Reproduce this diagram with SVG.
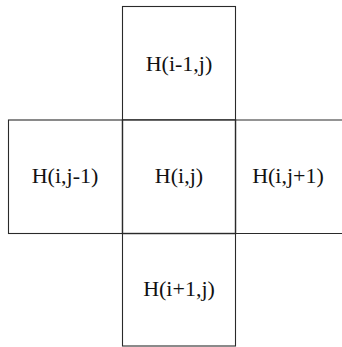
<svg xmlns="http://www.w3.org/2000/svg" width="342" height="347" viewBox="0 0 342 347">
<style>
.box{fill:#fff;stroke:#2a2a2a;stroke-width:1.1}
.lbl{font-family:"Liberation Serif","DejaVu Serif",serif;font-size:22px;fill:#111;text-anchor:middle}
</style>
<rect width="342" height="347" fill="#fff"/>
<g id="top"><rect class="box" x="122.5" y="6.5" width="113" height="113.5"/><text class="lbl" x="179" y="70.5">H(i-1,j)</text></g>
<g id="left"><rect class="box" x="8.5" y="120" width="114" height="113.5"/><text class="lbl" x="65" y="182.5">H(i,j-1)</text></g>
<g id="right"><path class="box" d="M343 120 H235.5 V233.5 H343"/><text class="lbl" x="288" y="182.5">H(i,j+1)</text></g>
<g id="bottom"><rect class="box" x="122.5" y="233.5" width="113" height="112.5"/><text class="lbl" x="179" y="296">H(i+1,j)</text></g>
<g id="center"><rect class="box" x="122.5" y="120" width="113" height="113.5" style="stroke-width:1.4"/><text class="lbl" x="179" y="182.5">H(i,j)</text></g>
<g id="connectors"></g>
</svg>
